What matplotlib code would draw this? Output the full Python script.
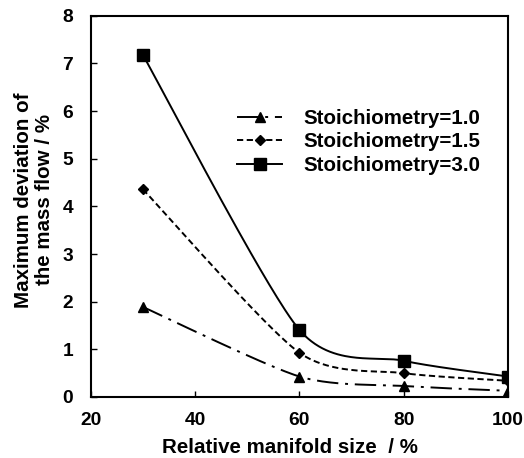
import numpy as np
import matplotlib
matplotlib.use("Agg")
import matplotlib.pyplot as plt
from matplotlib.lines import Line2D

plt.rcParams['font.family'] = ['Liberation Sans', 'DejaVu Sans']
plt.rcParams['font.weight'] = 'bold'

x = [30, 60, 80, 100]
s10 = [1.89, 0.43, 0.23, 0.13]
s15 = [4.36, 0.93, 0.50, 0.34]
s30 = [7.18, 1.41, 0.76, 0.43]
labels = ["Stoichiometry=1.0", "Stoichiometry=1.5", "Stoichiometry=3.0"]
xticks = [20, 40, 60, 80, 100]
yticks = [0, 1, 2, 3, 4, 5, 6, 7, 8]


def smooth(xs, ys, n=60, k=0.75):
    # Excel-like smooth line (cardinal Bezier spline through the points)
    xs = np.asarray(xs, float); ys = np.asarray(ys, float)
    P = np.column_stack([xs, ys])
    P = np.vstack([P[0], P, P[-1]])
    out = []
    for i in range(1, len(P) - 2):
        p0, p1, p2, p3 = P[i - 1], P[i], P[i + 1], P[i + 2]
        c1 = p1 + k * (p2 - p0) / 6.0
        c2 = p2 - k * (p3 - p1) / 6.0
        t = np.linspace(0, 1, n)[:, None]
        seg = ((1 - t) ** 3) * p1 + 3 * ((1 - t) ** 2) * t * c1 + 3 * (1 - t) * t ** 2 * c2 + t ** 3 * p2
        out.append(seg if i == 1 else seg[1:])
    out = np.vstack(out)
    return out[:, 0], out[:, 1]


fig = plt.figure(figsize=(5.24, 4.58), dpi=100)
ax = fig.add_axes([0.173, 0.1332, 0.7965, 0.8325])

styles = [
    dict(ls=(0, (11, 3.5, 1.5, 3.5)), marker='^', ms=7),
    dict(ls=(0, (3.2, 1.8)), marker='D', ms=5),
    dict(ls='-', marker='s', ms=8),
]
handles = []
for ys, st, lab in zip([s10, s15, s30], styles, labels):
    sx, sy = smooth(x, ys)
    ax.plot(sx, sy, color='black', lw=1.4, ls=st['ls'])
    ax.plot(x, ys, ls='none', marker=st['marker'], ms=st['ms'], color='black')
    handles.append(Line2D([], [], color='black', lw=1.4, ls=st['ls'], marker=st['marker'], ms=st['ms']))

ax.set_xlim(20, 100)
ax.set_ylim(0, 8)
ax.set_xticks(xticks)
ax.set_yticks(yticks)
ax.tick_params(direction='in', length=4, width=1, labelsize=13.8)
ax.tick_params(axis='x', pad=10.5)
ax.tick_params(axis='y', pad=12.5)
for lab in ax.get_xticklabels() + ax.get_yticklabels():
    lab.set_fontweight('bold')
for sp in ax.spines.values():
    sp.set_linewidth(1.5)

ax.set_xlabel("Relative manifold size  / %", fontsize=14.8, fontweight='bold')
ax.xaxis.set_label_coords(0.4776, -0.1075)
ax.set_ylabel("Maximum deviation of\nthe mass flow / %", fontsize=14.8, fontweight='bold',
              linespacing=1.1)
ax.yaxis.set_label_coords(-0.088, 0.517)

leg = ax.legend(handles, labels, loc='upper left', bbox_to_anchor=(0.351, 0.755), frameon=False,
                prop={'weight': 'bold', 'size': 14.8}, handlelength=2.2, handletextpad=1.0,
                labelspacing=0.21, borderaxespad=0, borderpad=0)

fig.savefig("out.png", dpi=100)
